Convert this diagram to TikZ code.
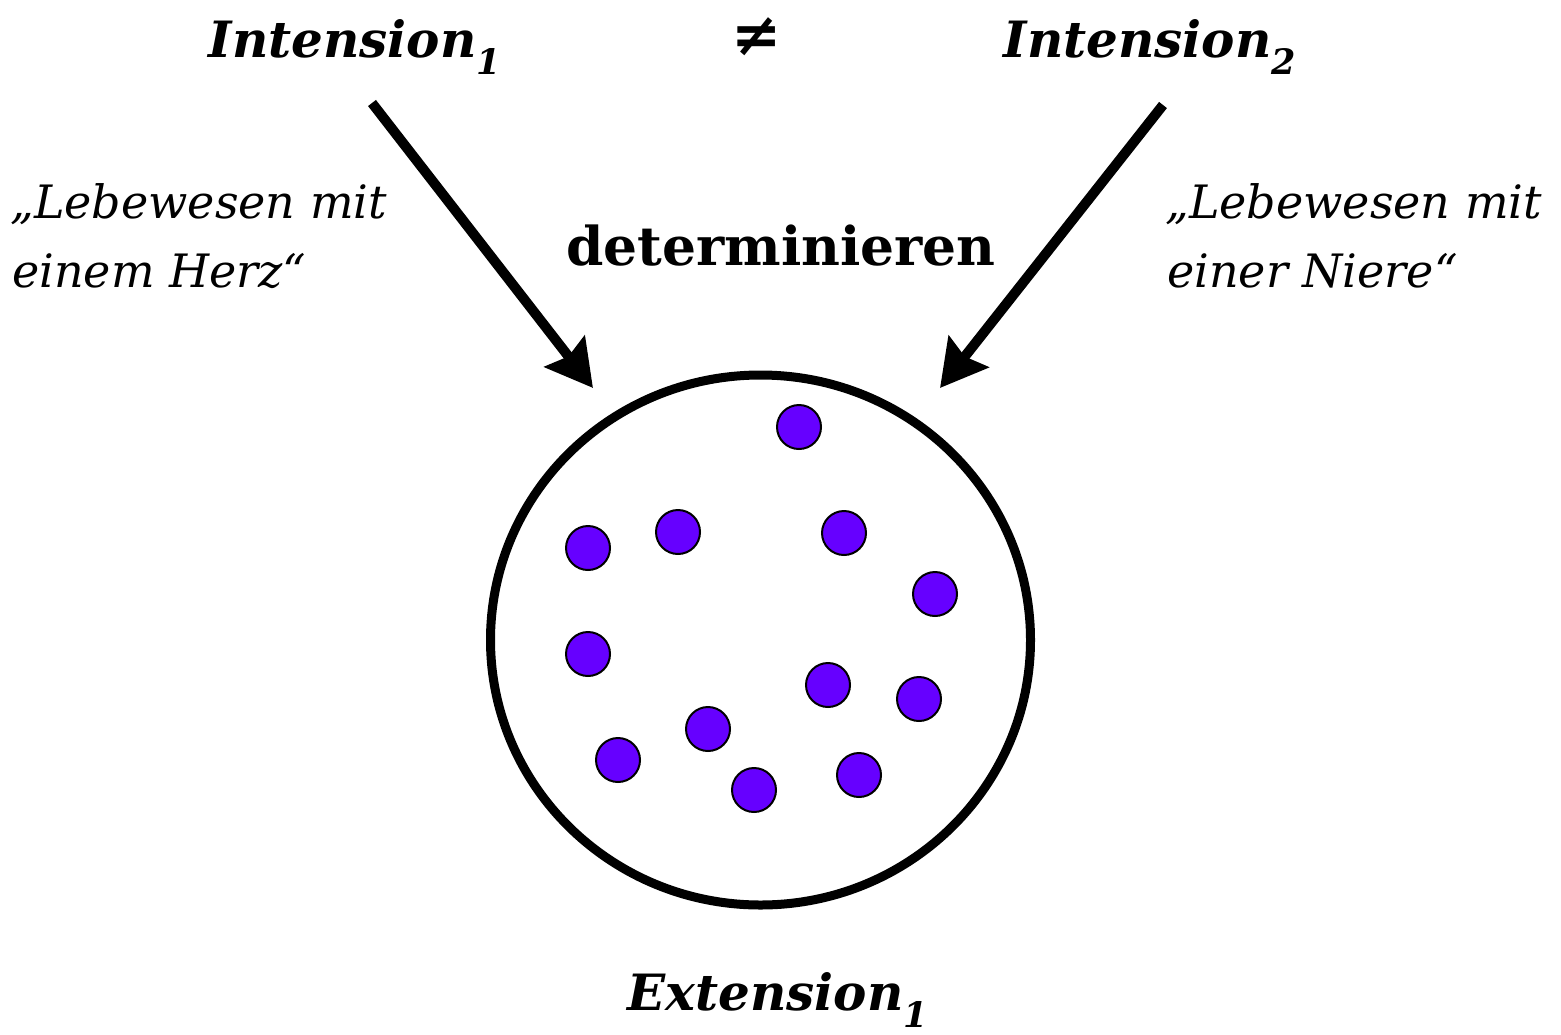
\documentclass[tikz,border=0pt]{standalone}
\usepackage{fontspec}
\setmainfont{DejaVu Serif}
\usetikzlibrary{arrows.meta,shapes.geometric}
\definecolor{dotc}{HTML}{6600FF}
\tikzset{
  dotn/.style={circle, draw=black, line width=2pt, fill=dotc, minimum size=44pt, inner sep=0pt},
  bigarrow/.style={line width=10pt, -{Stealth[length=46pt,width=50pt,inset=6pt]}},
  title/.style={font=\fontsize{50}{60}\selectfont\bfseries\itshape, inner sep=0pt},
  quote/.style={font=\fontsize{46}{54}\selectfont\itshape, inner sep=0pt, anchor=base west},
}
\begin{document}
\begin{tikzpicture}[x=1pt,y=-1pt]
\useasboundingbox (0,0) rectangle (1561,1034);
% titles
\node[title, anchor=base] (i1) at (355,57) {Intension\textsubscript{1}};
\node[font=\fontsize{60}{70}\selectfont\bfseries, inner sep=0pt, anchor=base] (neq) at (757,55) {≠};
\node[title, anchor=base] (i2) at (1150,57) {Intension\textsubscript{2}};
\node[title, anchor=base] (ext) at (778,1010) {Extension\textsubscript{1}};
\node[font=\fontsize{53.5}{64}\selectfont\bfseries, inner sep=0pt, anchor=base] (det) at (781,265) {determinieren};
% quotes
\node[quote] (q1a) at (10,218) {„Lebewesen mit};
\node[quote] (q1b) at (12,287) {einem Herz“};
\node[quote] (q2a) at (1165,218) {„Lebewesen mit};
\node[quote] (q2b) at (1167,287) {einer Niere“};
% ellipse
\node[draw, line width=9pt, ellipse, minimum width=540pt, minimum height=530pt, inner sep=0pt] (ell) at (760.5,640) {};
% arrows
\coordinate (a1s) at (372,103);
\coordinate (a1e) at (593,388);
\coordinate (a2s) at (1163,105);
\coordinate (a2e) at (940,388);
\draw[bigarrow] (a1s) -- (a1e);
\draw[bigarrow] (a2s) -- (a2e);
% dots
\node[dotn] (d1) at (799,427) {};
\node[dotn] (d2) at (588,548) {};
\node[dotn] (d3) at (678,532) {};
\node[dotn] (d4) at (844,533) {};
\node[dotn] (d5) at (935,594) {};
\node[dotn] (d6) at (588,654) {};
\node[dotn] (d7) at (828,685) {};
\node[dotn] (d8) at (919,699) {};
\node[dotn] (d9) at (708,729) {};
\node[dotn] (d10) at (618,760) {};
\node[dotn] (d11) at (754,790) {};
\node[dotn] (d12) at (859,775) {};
\end{tikzpicture}
\end{document}
